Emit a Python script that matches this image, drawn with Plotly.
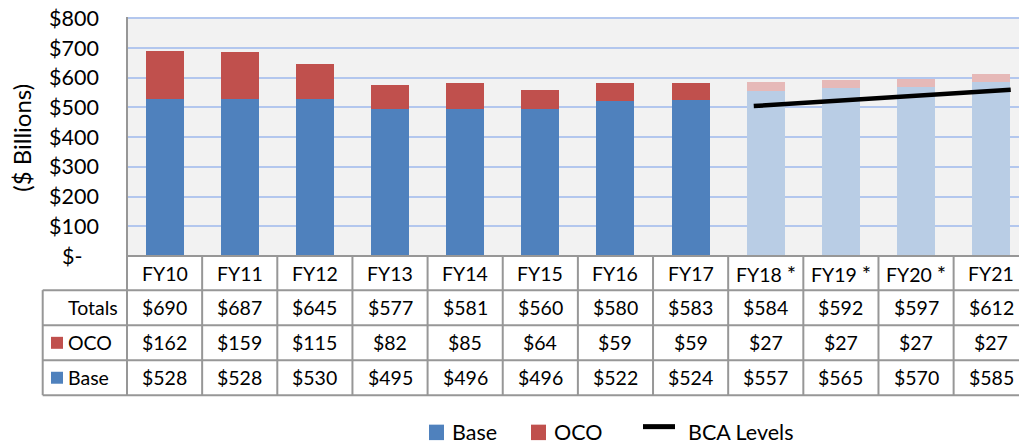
import plotly.graph_objects as go

# ---- data ----------------------------------------------------------------
categories = ["FY10", "FY11", "FY12", "FY13", "FY14", "FY15", "FY16", "FY17",
              "FY18 *", "FY19 *", "FY20 *", "FY21"]
base = [528, 528, 530, 495, 496, 496, 522, 524, 557, 565, 570, 585]
oco = [162, 159, 115, 82, 85, 64, 59, 59, 27, 27, 27, 27]
totals = [690, 687, 645, 577, 581, 560, 580, 583, 584, 592, 597, 612]
projected = [False] * 8 + [True] * 4

# BCA cap levels at the first and last projected years
bca_categories = ["FY18 *", "FY21"]
bca_levels = [507, 555]

y_tickvals = [0, 100, 200, 300, 400, 500, 600, 700, 800]
y_ticktext = ["$-\u00a0\u00a0\u00a0", "$100", "$200", "$300", "$400",
              "$500", "$600", "$700", "$800"]

row_labels = ["Totals", "OCO", "Base"]

# ---- styling -------------------------------------------------------------
W, H = 1019, 445
ML, MR, MT, MB = 127, 0, 17, 188.5
FONT = "Lato"
TABLE_FS, TICK_FS, LEG_FS, TITLE_FS = 19.5, 21.5, 21.5, 24
BLUE, RED = "#4F81BD", "#C0504D"
BLUE_LT, RED_LT = "#B9CDE5", "#E6B9B8"
GRID = "#B3C7EE"
BORDER = "#979797"
X_RANGE = [-0.5, 11.37]
Y_RANGE = [0, 804.4]

plot_w = W - ML - MR
plot_h = H - MT - MB


def px_x(px):
    return (px - ML) / plot_w


def px_y(py):
    return (H - MB - py) / plot_h


def cat_x(v):
    return (v - X_RANGE[0]) / (X_RANGE[1] - X_RANGE[0])


def header_text(c):
    # draw the projection asterisk slightly larger
    if c.endswith("*"):
        return c[:-1] + '<span style="font-size:22px">*</span>'
    return c


xs = list(range(len(categories)))
base_colors = [BLUE_LT if p else BLUE for p in projected]
oco_colors = [RED_LT if p else RED for p in projected]

fig = go.Figure()
fig.add_trace(go.Bar(x=xs, y=base, name="Base", marker=dict(color=base_colors, line=dict(width=0)),
                     hovertext=categories))
fig.add_trace(go.Bar(x=xs, y=oco, name="OCO", marker=dict(color=oco_colors, line=dict(width=0)),
                     hovertext=categories))

# BCA line, extended a little past the first and last projected bars
i0, i1 = categories.index(bca_categories[0]), categories.index(bca_categories[1])
slope = (bca_levels[1] - bca_levels[0]) / (i1 - i0)
ext_l, ext_r = 0.16, 0.26
fig.add_trace(go.Scatter(x=[i0 - ext_l, i1 + ext_r],
                         y=[bca_levels[0] - ext_l * slope, bca_levels[1] + ext_r * slope],
                         mode="lines", name="BCA Levels",
                         line=dict(color="#000000", width=4.5)))

shapes = []
annotations = []

# table geometry (pixel rows)
row_tops = [256.5, 290.7, 326, 361, 396]
table_left = 42.7

# horizontal rules
shapes.append(dict(type="line", xref="paper", yref="paper", x0=px_x(ML), x1=1,
                   y0=px_y(row_tops[0]), y1=px_y(row_tops[0]), line=dict(color=BORDER, width=2)))
for r in row_tops[1:]:
    shapes.append(dict(type="line", xref="paper", yref="paper", x0=px_x(table_left), x1=1,
                       y0=px_y(r), y1=px_y(r), line=dict(color=BORDER, width=2)))
# vertical rules
for k in range(len(categories) + 1):
    xv = cat_x(k - 0.5)
    if xv > 1:
        continue
    top = MT if k == 0 else row_tops[0]
    shapes.append(dict(type="line", xref="paper", yref="paper", x0=xv, x1=xv,
                       y0=px_y(top), y1=px_y(row_tops[-1]), line=dict(color=BORDER, width=2)))
shapes.append(dict(type="line", xref="paper", yref="paper", x0=px_x(table_left), x1=px_x(table_left),
                   y0=px_y(row_tops[1]), y1=px_y(row_tops[-1]), line=dict(color=BORDER, width=2)))

# header row
for k, c in enumerate(categories):
    annotations.append(dict(x=k, xref="x", y=px_y((row_tops[0] + row_tops[1]) / 2), yref="paper",
                            text=header_text(c), showarrow=False, xanchor="center", yanchor="middle",
                            font=dict(family=FONT, size=TABLE_FS, color="#000")))

# value rows
rows = [totals, oco, base]
for ri, (lab, vals) in enumerate(zip(row_labels, rows)):
    yc = px_y((row_tops[ri + 1] + row_tops[ri + 2]) / 2)
    annotations.append(dict(x=px_x(66), xref="paper", y=yc, yref="paper", text=lab,
                            showarrow=False, xanchor="left", yanchor="middle",
                            font=dict(family=FONT, size=TABLE_FS, color="#000")))
    for k, v in enumerate(vals):
        annotations.append(dict(x=k, xref="x", y=yc, yref="paper", text=f"${v}",
                                showarrow=False, xanchor="center", yanchor="middle",
                                font=dict(family=FONT, size=TABLE_FS, color="#000")))
    if lab in ("OCO", "Base"):
        col = RED if lab == "OCO" else BLUE
        shapes.append(dict(type="rect", xref="paper", yref="paper",
                           x0=px_x(51), x1=px_x(63), y0=yc - 6 / plot_h, y1=yc + 6 / plot_h,
                           fillcolor=col, line=dict(width=0)))

# legend
leg_y = px_y(433)
shapes.append(dict(type="rect", xref="paper", yref="paper", x0=px_x(429), x1=px_x(444),
                   y0=px_y(441), y1=px_y(425.5), fillcolor=BLUE, line=dict(width=0)))
annotations.append(dict(x=px_x(450), xref="paper", y=leg_y, yref="paper", text="Base",
                        showarrow=False, xanchor="left", yanchor="middle",
                        font=dict(family=FONT, size=LEG_FS, color="#000")))
shapes.append(dict(type="rect", xref="paper", yref="paper", x0=px_x(531), x1=px_x(546),
                   y0=px_y(441), y1=px_y(425.5), fillcolor=RED, line=dict(width=0)))
annotations.append(dict(x=px_x(552), xref="paper", y=leg_y, yref="paper", text="OCO",
                        showarrow=False, xanchor="left", yanchor="middle",
                        font=dict(family=FONT, size=LEG_FS, color="#000")))
shapes.append(dict(type="line", xref="paper", yref="paper", x0=px_x(643), x1=px_x(675),
                   y0=px_y(427.5), y1=px_y(427.5), line=dict(color="#000", width=5)))
annotations.append(dict(x=px_x(686), xref="paper", y=leg_y, yref="paper", text="BCA Levels",
                        showarrow=False, xanchor="left", yanchor="middle",
                        font=dict(family=FONT, size=LEG_FS, color="#000")))

# y-axis title
annotations.append(dict(x=px_x(22), xref="paper", y=px_y(138), yref="paper", text="($ Billions)",
                        showarrow=False, textangle=-90, xanchor="center", yanchor="middle",
                        font=dict(family=FONT, size=TITLE_FS, color="#000")))

fig.update_layout(
    width=W, height=H, autosize=False,
    margin=dict(l=ML, r=MR, t=MT, b=MB, pad=0),
    paper_bgcolor="#FFFFFF", plot_bgcolor="#F2F2F2",
    barmode="stack", bargap=0.494,
    showlegend=False,
    shapes=shapes, annotations=annotations,
    xaxis=dict(range=X_RANGE, showticklabels=False, showgrid=False, zeroline=False,
               showline=False, ticks="", fixedrange=True),
    yaxis=dict(range=Y_RANGE, tickvals=y_tickvals, ticktext=y_ticktext,
               tickfont=dict(family=FONT, size=TICK_FS, color="#000"),
               showgrid=True, gridcolor=GRID, gridwidth=1.5, zeroline=False,
               showline=False, ticks="", ticklabelstandoff=27, fixedrange=True),
)

fig.write_html("out.html")
